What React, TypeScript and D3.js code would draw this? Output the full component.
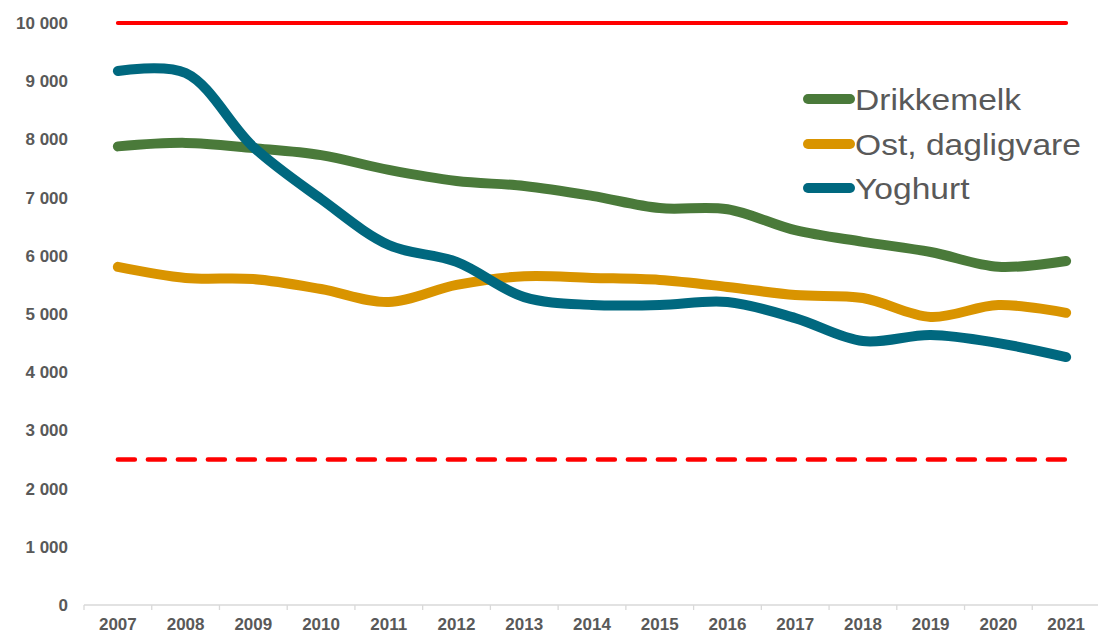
import React, { useEffect, useRef } from "react";
import * as d3 from "d3";

const years = ["2007", "2008", "2009", "2010", "2011", "2012", "2013", "2014", "2015", "2016", "2017", "2018", "2019", "2020", "2021"];
const drikkemelk = [7880, 7940, 7850, 7730, 7475, 7285, 7200, 7030, 6820, 6800, 6440, 6240, 6065, 5810, 5910];
const ostDagligvare = [5810, 5620, 5600, 5430, 5205, 5500, 5650, 5620, 5585, 5465, 5325, 5275, 4950, 5155, 5020];
const yoghurt = [9175, 9140, 7870, 6975, 6185, 5895, 5290, 5155, 5155, 5205, 4930, 4535, 4640, 4500, 4260];
const upperLimit = 10000;
const lowerLimit = 2500;
const yTicks = [0, 1000, 2000, 3000, 4000, 5000, 6000, 7000, 8000, 9000, 10000];

const seriesNames = ["Drikkemelk", "Ost, dagligvare", "Yoghurt"];
const seriesColors = ["#4a7a3a", "#d99400", "#00687f"];

export default function App() {
    const ref = useRef<SVGSVGElement>(null);

    useEffect(() => {
        const width = 1098, height = 633;
        const svg = d3.select(ref.current);
        svg.selectAll("*").remove();

        const x = d3.scaleBand().domain(years).range([84, 1100]);
        const y = d3.scaleLinear().domain([0, 10000]).range([605, 23]);
        const font = '"Liberation Sans", Arial, sans-serif';

        // y labels
        svg.append("g")
            .selectAll("text")
            .data(yTicks)
            .enter()
            .append("text")
            .attr("x", 68)
            .attr("y", d => y(d))
            .attr("dy", "0.35em")
            .attr("text-anchor", "end")
            .style("font-family", font)
            .style("font-weight", "bold")
            .style("font-size", "17px")
            .attr("fill", "#595959")
            .text(d => d3.format(",")(d).replace(/,/g, " "));

        // x axis
        svg.append("line")
            .attr("x1", x.range()[0]).attr("x2", x.range()[1])
            .attr("y1", y(0)).attr("y2", y(0))
            .attr("stroke", "#d9d9d9").attr("stroke-width", 1.3);

        svg.append("g")
            .selectAll("line")
            .data(years.concat(["end"]))
            .enter()
            .append("line")
            .attr("x1", (d, i) => x.range()[0] + i * x.step())
            .attr("x2", (d, i) => x.range()[0] + i * x.step())
            .attr("y1", y(0)).attr("y2", y(0) + 5)
            .attr("stroke", "#d9d9d9").attr("stroke-width", 1.3);

        svg.append("g")
            .selectAll("text")
            .data(years)
            .enter()
            .append("text")
            .attr("x", d => x(d)! + x.bandwidth() / 2)
            .attr("y", 630)
            .attr("text-anchor", "middle")
            .style("font-family", font)
            .style("font-weight", "bold")
            .style("font-size", "17px")
            .attr("fill", "#595959")
            .text(d => d);

        const cx = (d: string) => x(d)! + x.bandwidth() / 2;

        // limit lines
        svg.append("line")
            .attr("x1", cx(years[0])).attr("x2", cx(years[years.length - 1]))
            .attr("y1", y(upperLimit)).attr("y2", y(upperLimit))
            .attr("stroke", "#ff0000").attr("stroke-width", 4)
            .attr("stroke-linecap", "round");

        svg.append("line")
            .attr("x1", cx(years[0])).attr("x2", cx(years[years.length - 1]))
            .attr("y1", y(lowerLimit)).attr("y2", y(lowerLimit))
            .attr("stroke", "#ff0000").attr("stroke-width", 4.5)
            .attr("stroke-dasharray", "17 13")
            .attr("stroke-linecap", "round");

        const line = d3.line<number>()
            .x((d, i) => cx(years[i]))
            .y(d => y(d))
            .curve(d3.curveCatmullRom.alpha(0.5));

        const allSeries = [drikkemelk, ostDagligvare, yoghurt];
        allSeries.forEach((vals, i) => {
            svg.append("path")
                .datum(vals)
                .attr("d", line)
                .attr("fill", "none")
                .attr("stroke", seriesColors[i])
                .attr("stroke-width", 10)
                .attr("stroke-linecap", "round")
                .attr("stroke-linejoin", "round");
        });

        // legend (text in the picture looks a bit stretched sideways)
        const legend = svg.append("g");
        const rowY = [99, 144, 188];
        seriesNames.forEach((name, i) => {
            legend.append("line")
                .attr("x1", 808).attr("x2", 850)
                .attr("y1", rowY[i]).attr("y2", rowY[i])
                .attr("stroke", seriesColors[i])
                .attr("stroke-width", 10)
                .attr("stroke-linecap", "round");
            legend.append("text")
                .attr("transform", `translate(855,${rowY[i]}) scale(1.12,1)`)
                .attr("dy", "0.35em")
                .style("font-family", font)
                .style("font-size", "30px")
                .attr("fill", "#595959")
                .text(name);
        });

        svg.attr("width", width).attr("height", height);
    }, []);

    return (
        <svg ref={ref} width={1098} height={633}
             style={{position: "absolute", left: 0, top: 0, display: "block", background: "#fff"}}/>
    );
}
